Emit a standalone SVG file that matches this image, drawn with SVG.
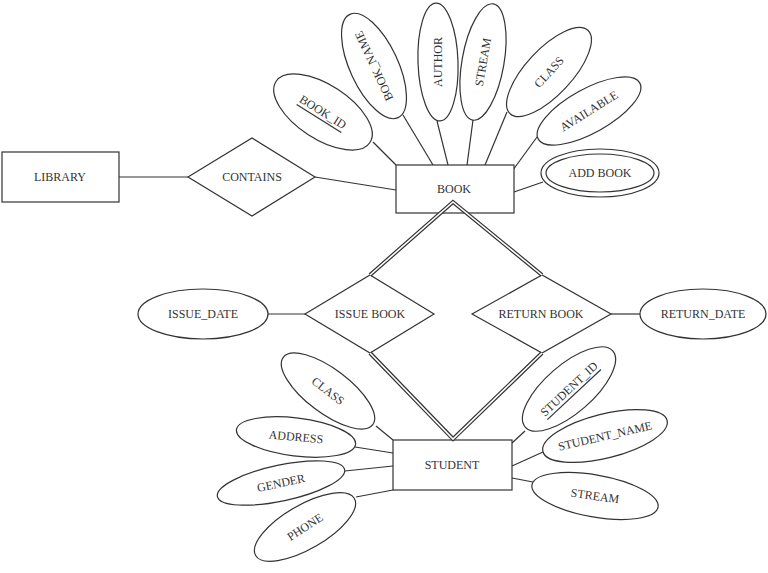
<svg xmlns="http://www.w3.org/2000/svg" width="768" height="573" viewBox="0 0 768 573">
<style>
.s{fill:#fff;stroke:#333;stroke-width:1.2}
.l{stroke:#333;stroke-width:1.2;fill:none}
.d{stroke:#333;stroke-width:4;fill:none;stroke-linejoin:miter}
.dw{stroke:#fff;stroke-width:1.6;fill:none;stroke-linejoin:miter}
text{font-family:"Liberation Serif","DejaVu Serif",serif;font-size:12px;fill:#333;text-anchor:middle;dominant-baseline:central}
.u{text-decoration:underline}
</style>
<rect width="768" height="573" fill="#fff"/>
<g id="connectors">
<line class="l" x1="119" y1="177" x2="188" y2="177"/>
<line class="l" x1="315" y1="177" x2="396" y2="190"/>
<line class="l" x1="373" y1="142" x2="396" y2="165"/>
<line class="l" x1="403" y1="115" x2="433" y2="165"/>
<line class="l" x1="437" y1="121" x2="448" y2="165"/>
<line class="l" x1="473" y1="120" x2="467" y2="165"/>
<line class="l" x1="507" y1="112" x2="485" y2="165"/>
<line class="l" x1="537" y1="137" x2="513" y2="170"/>
<line class="l" x1="543" y1="182" x2="514" y2="192"/>
<line class="l" x1="268" y1="314" x2="305" y2="314"/>
<line class="l" x1="611" y1="314" x2="640" y2="314"/>
<line class="l" x1="376" y1="426" x2="393" y2="440"/>
<line class="l" x1="355" y1="447" x2="393" y2="453"/>
<line class="l" x1="345" y1="471" x2="393" y2="466"/>
<line class="l" x1="356" y1="497" x2="393" y2="490"/>
<line class="l" x1="525" y1="431" x2="512" y2="443"/>
<line class="l" x1="543" y1="452" x2="512" y2="466"/>
<line class="l" x1="533" y1="482" x2="512" y2="478"/>
</g>
<g id="LIBRARY"><rect class="s" x="2" y="152" width="117" height="50"/><text x="60" y="177">LIBRARY</text></g>
<g id="CONTAINS"><polygon class="s" points="188,177 252,138 315,177 252,216"/><text x="252" y="177">CONTAINS</text></g>
<g id="BOOK"><rect class="s" x="396" y="165" width="118" height="48"/><text x="454" y="189">BOOK</text></g>
<g id="ISSUE_BOOK"><polygon class="s" points="305,314 370,275 434,314 370,353"/><text x="370" y="314">ISSUE BOOK</text></g>
<g id="RETURN_BOOK"><polygon class="s" points="472,314 542,275 611,314 542,353"/><text x="541" y="314">RETURN BOOK</text></g>
<g id="STUDENT"><rect class="s" x="393" y="440" width="119" height="50"/><text x="452" y="465">STUDENT</text></g>
<g id="double-links">
<polyline class="d" points="370,275 453,202 542,275"/>
<polyline class="dw" points="370,275 453,202 542,275"/>
<polyline class="d" points="370,353 453,439 542,353"/>
<polyline class="dw" points="370,353 453,439 542,353"/>
</g>
<g id="BOOK_ID"><ellipse class="s" cx="323" cy="112" rx="56" ry="27" transform="rotate(33 323 112)"/><text class="u" x="323" y="112" transform="rotate(32 323 112)">BOOK_ID</text></g>
<g id="BOOK_NAME"><ellipse class="s" cx="374" cy="66" rx="57" ry="24" transform="rotate(65 374 66)"/><text x="374" y="66" transform="rotate(-115 374 66)">BOOK_NAME</text></g>
<g id="AUTHOR"><ellipse class="s" cx="438" cy="62" rx="20" ry="59" transform="rotate(-2 438 62)"/><text x="438" y="62" transform="rotate(-90 438 62)">AUTHOR</text></g>
<g id="STREAM_B"><ellipse class="s" cx="483" cy="62" rx="21" ry="59" transform="rotate(10 483 62)"/><text x="483" y="62" transform="rotate(-80 483 62)">STREAM</text></g>
<g id="CLASS_B"><ellipse class="s" cx="549" cy="72" rx="57" ry="23" transform="rotate(-47 549 72)"/><text x="549" y="72" transform="rotate(-47 549 72)">CLASS</text></g>
<g id="AVAILABLE"><ellipse class="s" cx="589" cy="111" rx="58" ry="22" transform="rotate(-29 589 111)"/><text x="589" y="111" transform="rotate(-32 589 111)">AVAILABLE</text></g>
<g id="ADD_BOOK"><ellipse class="s" cx="600" cy="173" rx="59" ry="24"/><ellipse class="s" cx="600" cy="173" rx="54" ry="19"/><text x="600" y="173">ADD BOOK</text></g>
<g id="ISSUE_DATE"><ellipse class="s" cx="203" cy="314" rx="65" ry="25"/><text x="203" y="314">ISSUE_DATE</text></g>
<g id="RETURN_DATE"><ellipse class="s" cx="703" cy="314" rx="63" ry="25"/><text x="703" y="314">RETURN_DATE</text></g>
<g id="CLASS_S"><ellipse class="s" cx="328" cy="391" rx="56" ry="22" transform="rotate(37 328 391)"/><text x="328" y="391" transform="rotate(38 328 391)">CLASS</text></g>
<g id="ADDRESS"><ellipse class="s" cx="296" cy="437" rx="60" ry="19" transform="rotate(7 296 437)"/><text x="296" y="437" transform="rotate(5 296 437)">ADDRESS</text></g>
<g id="GENDER"><ellipse class="s" cx="281" cy="483" rx="65" ry="18" transform="rotate(-12 281 483)"/><text x="281" y="483" transform="rotate(-12 281 483)">GENDER</text></g>
<g id="PHONE"><ellipse class="s" cx="305" cy="527" rx="57" ry="22" transform="rotate(-30 305 527)"/><text x="305" y="527" transform="rotate(-33 305 527)">PHONE</text></g>
<g id="STUDENT_ID"><ellipse class="s" cx="569" cy="389" rx="58" ry="24" transform="rotate(-41 569 389)"/><text class="u" x="569" y="389" transform="rotate(-43 569 389)">STUDENT_ID</text></g>
<g id="STUDENT_NAME"><ellipse class="s" cx="605" cy="436" rx="64" ry="22" transform="rotate(-14 605 436)"/><text x="605" y="436" transform="rotate(-13 605 436)">STUDENT_NAME</text></g>
<g id="STREAM_S"><ellipse class="s" cx="595" cy="496" rx="64" ry="21" transform="rotate(10 595 496)"/><text x="595" y="496" transform="rotate(8 595 496)">STREAM</text></g>
</svg>
